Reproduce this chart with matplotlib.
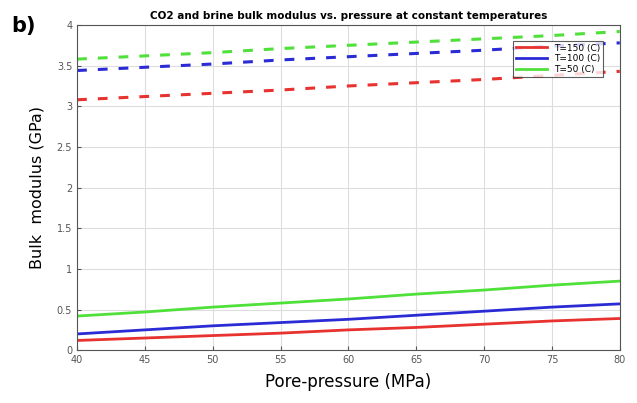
import matplotlib
matplotlib.use('Agg')
import matplotlib.pyplot as plt

# pore pressure (MPa)
pressure = [40, 45, 50, 55, 60, 65, 70, 75, 80]

# brine bulk modulus (GPa), dashed
brine_150 = [3.08, 3.12, 3.16, 3.20, 3.25, 3.29, 3.33, 3.38, 3.43]
brine_100 = [3.44, 3.48, 3.52, 3.57, 3.61, 3.65, 3.69, 3.74, 3.78]
brine_50 = [3.58, 3.62, 3.66, 3.71, 3.75, 3.79, 3.83, 3.87, 3.92]

# CO2 bulk modulus (GPa), solid
co2_150 = [0.12, 0.15, 0.18, 0.21, 0.25, 0.28, 0.32, 0.36, 0.39]
co2_100 = [0.20, 0.25, 0.30, 0.34, 0.38, 0.43, 0.48, 0.53, 0.57]
co2_50 = [0.42, 0.47, 0.53, 0.58, 0.63, 0.69, 0.74, 0.80, 0.85]

labels = ['T=150 (C)', 'T=100 (C)', 'T=50 (C)']
colors = ['#e8322f', '#2b2bd6', '#4fe03a']

fig = plt.figure(figsize=(6.37, 4.03), dpi=100)
ax = fig.add_axes([0.121, 0.131, 0.852, 0.807])

for co2, brine, c, lab in zip([co2_150, co2_100, co2_50],
                              [brine_150, brine_100, brine_50], colors, labels):
    ax.plot(pressure, co2, color=c, lw=2, label=lab)
    ax.plot(pressure, brine, color=c, lw=2.2, ls=(0, (3.2, 3.6)))

ax.set_xlim(40, 80)
ax.set_ylim(0, 4)
ax.set_xticks(range(40, 81, 5))
ax.set_yticks([0, 0.5, 1, 1.5, 2, 2.5, 3, 3.5, 4])
ax.set_yticklabels(['0', '0.5', '1', '1.5', '2', '2.5', '3', '3.5', '4'])
ax.tick_params(labelsize=7, colors='#555555', direction='in', length=3)
ax.grid(True, color='#dddddd', lw=0.8)
for s in ax.spines.values():
    s.set_color('#555555')

ax.set_title('CO2 and brine bulk modulus vs. pressure at constant temperatures',
             fontsize=7.5, fontweight='bold', pad=4)
ax.set_xlabel('Pore-pressure (MPa)', fontsize=12, labelpad=6)
ax.set_ylabel('Bulk  modulus (GPa)', fontsize=11.5, labelpad=9)

leg = ax.legend(loc='upper right', fontsize=6.5, handlelength=3.5,
                fancybox=False, edgecolor='#333333', borderpad=0.3,
                labelspacing=0.2, bbox_to_anchor=(0.978, 0.965))
leg.get_frame().set_linewidth(0.8)

fig.text(0.018, 0.92, 'b)', fontsize=15, fontweight='semibold')

fig.savefig('out.png', dpi=100)
